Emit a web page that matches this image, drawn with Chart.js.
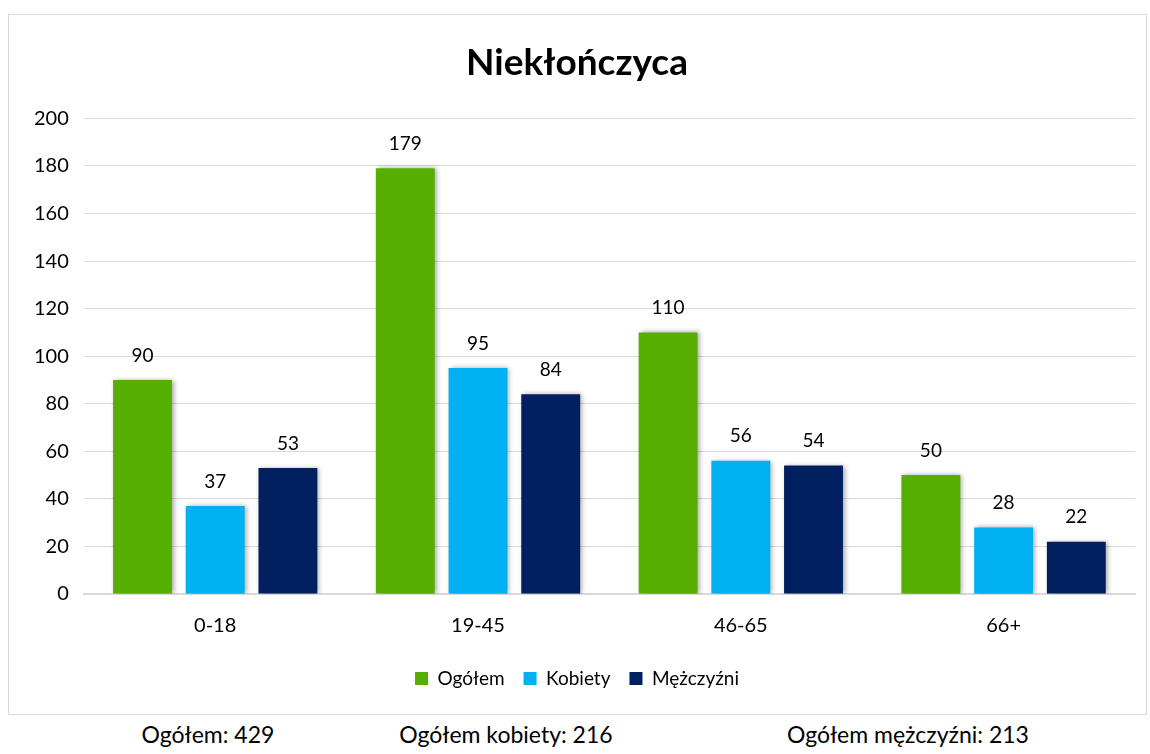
<!DOCTYPE html>
<html lang="pl">
<head>
  <meta charset="UTF-8" />
  <title>Niekłończyca</title>
  <script src="https://cdn.jsdelivr.net/npm/chart.js@4"></script>
  <style>
    body { margin: 0; background: #fff; font-family: Lato, 'Open Sans', sans-serif; }
    #box { position: absolute; left: 8px; top: 14px; width: 1139px; height: 701px; border: 1px solid #d9d9d9; box-sizing: border-box; }
    #totals { position: absolute; top: 716px; left: 0; width: 1150px; height: 38px; font-size: 23px; color: #000; }
    #totals span { position: absolute; top: 4px; transform: translateX(-50%); white-space: nowrap; }
  </style>
</head>
<body>
  <div id="box"><canvas id="chart"></canvas></div>
  <div id="totals">
    <span style="left:208px">Ogółem: 429</span>
    <span style="left:506px">Ogółem kobiety: 216</span>
    <span style="left:908px">Ogółem mężczyźni: 213</span>
  </div>

  <script>
    const categories = ['0-18', '19-45', '46-65', '66+'];
    const ogolem = [90, 179, 110, 50];
    const kobiety = [37, 95, 56, 28];
    const mezczyzni = [53, 84, 54, 22];

    const FONT = 'Lato, sans-serif';

    // etykiety z wartościami nad słupkami
    const valueLabels = {
      id: 'valueLabels',
      afterDatasetsDraw(chart) {
        const ctx = chart.ctx;
        ctx.save();
        ctx.font = '19px ' + FONT;
        ctx.fillStyle = '#000';
        ctx.textAlign = 'center';
        ctx.textBaseline = 'bottom';
        chart.data.datasets.forEach((ds, i) => {
          chart.getDatasetMeta(i).data.forEach((bar, j) => {
            ctx.fillText(ds.data[j], bar.x, bar.y - 15);
          });
        });
        ctx.restore();
      }
    };

    // lekki cień pod słupkami
    const barShadow = {
      id: 'barShadow',
      beforeDatasetsDraw(chart) {
        const ctx = chart.ctx;
        ctx.save();
        ctx.shadowColor = 'rgba(0,0,0,0.35)';
        ctx.shadowBlur = 5;
        ctx.shadowOffsetX = 2;
        ctx.shadowOffsetY = 0;
      },
      afterDatasetsDraw(chart) {
        chart.ctx.restore();
      }
    };

    new Chart(document.getElementById('chart'), {
      type: 'bar',
      data: {
        labels: categories,
        datasets: [
          { label: 'Ogółem', data: ogolem, backgroundColor: '#56AF00' },
          { label: 'Kobiety', data: kobiety, backgroundColor: '#00B0F0' },
          { label: 'Mężczyźni', data: mezczyzni, backgroundColor: '#002060' }
        ]
      },
      options: {
        responsive: true,
        maintainAspectRatio: false,
        animation: false,
        categoryPercentage: 0.83,
        barPercentage: 0.81,
        layout: { padding: { left: 10, right: 11, top: 10, bottom: 16 } },
        plugins: {
          title: {
            display: true,
            text: 'Niekłończyca',
            color: '#000',
            font: { family: FONT, size: 37, weight: 'bold' },
            padding: { top: 16, bottom: 33 }
          },
          legend: {
            position: 'bottom',
            labels: {
              color: '#000',
              font: { family: FONT, size: 19 },
              boxWidth: 13,
              boxHeight: 13,
              padding: 19
            }
          },
          tooltip: { enabled: false }
        },
        scales: {
          x: {
            grid: { display: false },
            border: { color: '#d9d9d9', width: 2 },
            ticks: { color: '#000', font: { family: FONT, size: 20 }, padding: 12 }
          },
          y: {
            min: 0,
            max: 200,
            grid: { color: '#d9d9d9', drawTicks: false },
            border: { display: false },
            ticks: { stepSize: 20, color: '#000', font: { family: FONT, size: 20 }, padding: 15 }
          }
        }
      },
      plugins: [barShadow, valueLabels]
    });
  </script>
</body>
</html>
